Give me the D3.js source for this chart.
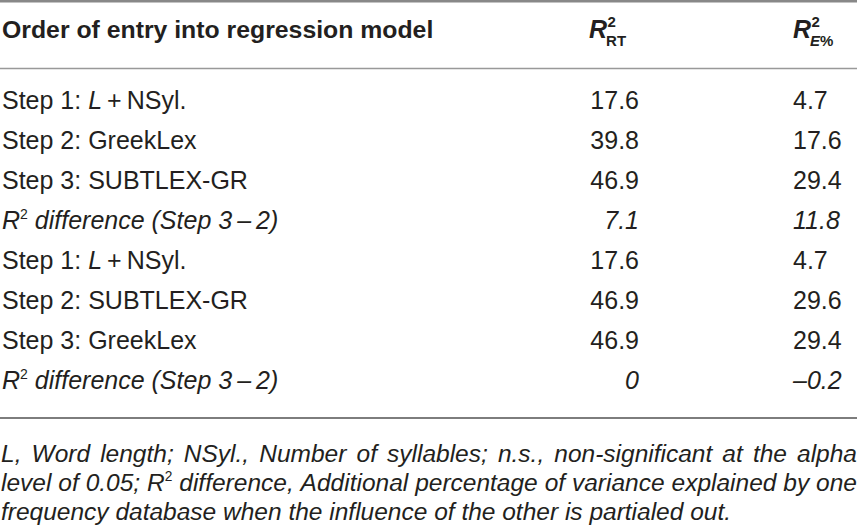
<!DOCTYPE html>
<html>
<head>
<meta charset="utf-8">
<script src="https://cdn.jsdelivr.net/npm/d3@7"></script>
<style>
  body { margin: 0; background: #fff; }
  svg { display: block; }
</style>
</head>
<body>
<div id="tbl"></div>
<script>
// table content
const headerLabel = "Order of entry into regression model";
// label parts: [text, style]  style: "i" italic, "sup" superscript
const rowLabels = [
  [["Step 1: "], ["L", "i"], ["\u2009+\u2009NSyl."]],
  [["Step 2: GreekLex"]],
  [["Step 3: SUBTLEX-GR"]],
  [["R", "i"], ["2", "sup"], [" difference (Step 3\u2009\u2013\u20092)", "i"]],
  [["Step 1: "], ["L", "i"], ["\u2009+\u2009NSyl."]],
  [["Step 2: SUBTLEX-GR"]],
  [["Step 3: GreekLex"]],
  [["R", "i"], ["2", "sup"], [" difference (Step 3\u2009\u2013\u20092)", "i"]]
];
const italicRows = [false, false, false, true, false, false, false, true];
const rtValues = [17.6, 39.8, 46.9, 7.1, 17.6, 46.9, 46.9, 0];
const eValues = [4.7, 17.6, 29.4, 11.8, 4.7, 29.6, 29.4, -0.2];
const footLines = [
  ["L,", "Word", "length;", "NSyl.,", "Number", "of", "syllables;", "n.s.,", "non-significant", "at", "the", "alpha"],
  ["level", "of", "0.05;", "R\u00b2", "difference,", "Additional", "percentage", "of", "variance", "explained", "by", "one"],
  ["frequency database when the influence of the other is partialed out."]
];

const W = 857, H = 529;
const ink = "#231f20";
const font = "'Liberation Sans', Arial, Helvetica, sans-serif";

const svg = d3.select("#tbl").append("svg")
  .attr("width", W).attr("height", H)
  .style("font-family", font);

// row baselines
const y = d3.scalePoint()
  .domain(d3.range(rowLabels.length))
  .range([109, 389]);

const col = {label: 2, rt: 639, e: 793};

const fmt = v => v === 0 ? "0" : d3.format(".1f")(v).replace("-", "\u2013").replace("\u2212", "\u2013");

// rules
svg.append("line").attr("x1", 0).attr("x2", W).attr("y1", 1.2).attr("y2", 1.2)
  .attr("stroke", "#888").attr("stroke-width", 2.4);
svg.append("line").attr("x1", 0).attr("x2", W).attr("y1", 68.5).attr("y2", 68.5)
  .attr("stroke", "#999").attr("stroke-width", 1.6);
svg.append("line").attr("x1", 0).attr("x2", W).attr("y1", 418).attr("y2", 418)
  .attr("stroke", "#7d7d7d").attr("stroke-width", 2.2);

// header
svg.append("text")
  .attr("x", col.label).attr("y", 38)
  .attr("font-size", 24.8).attr("font-weight", "bold").attr("fill", ink)
  .text(headerLabel);

function rHeader(x, subParts) {
  const t = svg.append("text")
    .attr("x", x).attr("y", 38)
    .attr("font-size", 25).attr("font-weight", "bold").attr("fill", ink);
  t.append("tspan").attr("font-style", "italic").text("R");
  const w = t.node().getComputedTextLength();
  t.append("tspan").attr("x", x + w + 0.5).attr("y", 27).attr("font-size", 15).text("2");
  const sub = t.append("tspan").attr("x", x + w - 1).attr("y", 46).attr("font-size", 15);
  subParts.forEach(p => {
    sub.append("tspan").attr("font-style", p[1] === "i" ? "italic" : "normal").text(p[0]);
  });
}
rHeader(589, [["RT"]]);
rHeader(793, [["E", "i"], ["%"]]);

// rich text helper
function addParts(textSel, parts, italic) {
  let shift = 0;
  parts.forEach(p => {
    const ts = textSel.append("tspan").text(p[0]);
    if (p[1] === "sup") {
      ts.attr("font-size", "0.56em").attr("dy", -10 - shift).attr("font-style", "normal");
      shift = -10;
    } else {
      if (shift !== 0) { ts.attr("dy", -shift); shift = 0; }
      if (p[1] === "i" || italic) ts.attr("font-style", "italic");
    }
  });
}

// rows
const rows = svg.append("g").attr("fill", ink).attr("font-size", 25);

rows.selectAll("text.lbl").data(rowLabels).join("text")
  .attr("class", "lbl")
  .attr("x", col.label)
  .attr("y", (d, i) => y(i))
  .each(function(d, i) { addParts(d3.select(this), d, italicRows[i]); });

rows.selectAll("text.rt").data(rtValues).join("text")
  .attr("class", "rt")
  .attr("x", col.rt)
  .attr("y", (d, i) => y(i))
  .attr("text-anchor", "end")
  .attr("font-style", (d, i) => italicRows[i] ? "italic" : "normal")
  .text(fmt);

rows.selectAll("text.e").data(eValues).join("text")
  .attr("class", "e")
  .attr("x", col.e)
  .attr("y", (d, i) => y(i))
  .attr("font-style", (d, i) => italicRows[i] ? "italic" : "normal")
  .text(fmt);

// footnote, justified
const footY = [462, 491, 520];
const footWidth = [856, 856, null];
const foot = svg.append("g").attr("fill", ink).attr("font-size", 24.5).attr("font-style", "italic");

footLines.forEach((words, li) => {
  const g = foot.append("g");
  const nodes = words.map(wd => {
    const t = g.append("text").attr("y", footY[li]);
    if (wd === "R\u00b2") {
      t.append("tspan").text("R");
      t.append("tspan").attr("font-size", "0.56em").attr("dy", -10).attr("font-style", "normal").text("2");
    } else {
      t.text(wd);
    }
    return t;
  });
  const widths = nodes.map(t => t.node().getComputedTextLength());
  const total = d3.sum(widths);
  const gap = footWidth[li] && words.length > 1
    ? (footWidth[li] - total) / (words.length - 1)
    : 6;
  let x = 1;
  nodes.forEach((t, k) => {
    t.attr("x", x);
    t.selectAll("tspan").filter((d, j) => j === 0).attr("x", x);
    x += widths[k] + gap;
  });
});
</script>
</body>
</html>
